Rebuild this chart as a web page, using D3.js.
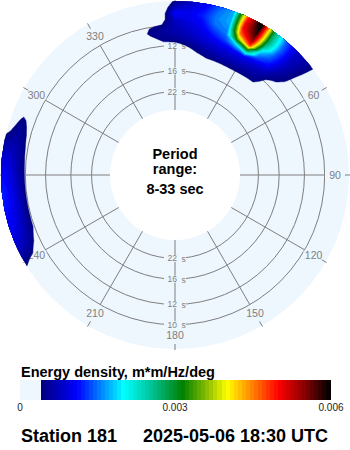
<!DOCTYPE html>
<html>
<head>
<meta charset="utf-8">
<script src="https://cdn.jsdelivr.net/npm/d3@7"></script>
<style>
  html, body { margin: 0; padding: 0; background: #ffffff; }
  svg { display: block; }
</style>
</head>
<body>
<svg id="chart" width="350" height="450"></svg>
<script>
// ---- Directional wave spectrum, energy density in m*m/Hz/deg ----
// Frequency bands (Hz) for the north-east sector and its direction bins (deg, clockwise from N)
const northFreqs = [0.070, 0.075, 0.080, 0.085, 0.090, 0.095, 0.100, 0.105, 0.110, 0.115, 0.120];
const northDirs = [-20, -15, -10, -5, 0, 5, 10, 15, 20, 25, 30, 35, 40, 45, 50, 55, 60];
const north070 = [0.00005, 0.00005, 0.00005, 0.00005, 0.00010, 0.00015, 0.00020, 0.00025, 0.00025, 0.00025, 0.00025, 0.00025, 0.00025, 0.00020, 0.00010, 0.00005, 0.00005];
const north075 = [0.00005, 0.00005, 0.00005, 0.00010, 0.00015, 0.00025, 0.00030, 0.00035, 0.00036, 0.00038, 0.00038, 0.00036, 0.00035, 0.00025, 0.00010, 0.00005, 0.00005];
const north080 = [0.00005, 0.00005, 0.00008, 0.00015, 0.00025, 0.00030, 0.00042, 0.00055, 0.00060, 0.00060, 0.00060, 0.00055, 0.00050, 0.00022, 0.00015, 0.00005, 0.00005];
const north085 = [0.00005, 0.00008, 0.00015, 0.00034, 0.00036, 0.00044, 0.00060, 0.00070, 0.00080, 0.00080, 0.00080, 0.00070, 0.00060, 0.00032, 0.00020, 0.00008, 0.00005];
const north090 = [0.00008, 0.00015, 0.00032, 0.00050, 0.00055, 0.00065, 0.00080, 0.00090, 0.00100, 0.00105, 0.00110, 0.00095, 0.00080, 0.00050, 0.00030, 0.00010, 0.00005];
const north095 = [0.00010, 0.00020, 0.00046, 0.00055, 0.00065, 0.00075, 0.00090, 0.00110, 0.00130, 0.00180, 0.00280, 0.00140, 0.00110, 0.00060, 0.00038, 0.00012, 0.00005];
const north100 = [0.00010, 0.00022, 0.00038, 0.00043, 0.00070, 0.00085, 0.00100, 0.00130, 0.00150, 0.00350, 0.00480, 0.00180, 0.00130, 0.00070, 0.00042, 0.00015, 0.00005];
const north105 = [0.00005, 0.00010, 0.00020, 0.00025, 0.00080, 0.00095, 0.00110, 0.00150, 0.00160, 0.00460, 0.00550, 0.00250, 0.00140, 0.00080, 0.00045, 0.00020, 0.00005];
const north110 = [0.00003, 0.00005, 0.00010, 0.00010, 0.00110, 0.00100, 0.00120, 0.00155, 0.00170, 0.00500, 0.00580, 0.00280, 0.00150, 0.00080, 0.00050, 0.00020, 0.00005];
const north115 = [0.00003, 0.00003, 0.00005, 0.00008, 0.00070, 0.00090, 0.00110, 0.00150, 0.00170, 0.00500, 0.00600, 0.00280, 0.00150, 0.00080, 0.00055, 0.00020, 0.00005];
const north120 = [0.00003, 0.00003, 0.00005, 0.00010, 0.00045, 0.00070, 0.00100, 0.00140, 0.00170, 0.00480, 0.00620, 0.00280, 0.00140, 0.00080, 0.00060, 0.00020, 0.00005];

// Western sector
const westFreqs = [0.095, 0.100, 0.105, 0.110, 0.115, 0.120];
const westDirs = [230, 235, 240, 245, 250, 255, 260, 265, 270, 275, 280, 285, 290, 295, 300];
const west095 = [0.00010, 0.00010, 0.00015, 0.00020, 0.00025, 0.00030, 0.00030, 0.00030, 0.00030, 0.00025, 0.00020, 0.00015, 0.00010, 0.00005, 0.00005];
const west100 = [0.00010, 0.00015, 0.00020, 0.00030, 0.00036, 0.00037, 0.00037, 0.00037, 0.00037, 0.00036, 0.00034, 0.00030, 0.00025, 0.00010, 0.00005];
const west105 = [0.00010, 0.00015, 0.00025, 0.00040, 0.00055, 0.00060, 0.00065, 0.00065, 0.00060, 0.00055, 0.00050, 0.00045, 0.00036, 0.00015, 0.00005];
const west110 = [0.00010, 0.00020, 0.00032, 0.00060, 0.00075, 0.00085, 0.00090, 0.00090, 0.00085, 0.00075, 0.00065, 0.00055, 0.00045, 0.00020, 0.00005];
const west115 = [0.00010, 0.00025, 0.00040, 0.00070, 0.00090, 0.00100, 0.00110, 0.00110, 0.00100, 0.00090, 0.00070, 0.00045, 0.00030, 0.00015, 0.00005];
const west120 = [0.00010, 0.00030, 0.00045, 0.00080, 0.00100, 0.00110, 0.00120, 0.00120, 0.00110, 0.00090, 0.00060, 0.00032, 0.00020, 0.00010, 0.00005];

// Period rings (s) and compass directions (deg)
const ringPeriods = [10, 12, 16, 22];
const compassDirs = [0, 30, 60, 90, 120, 150, 180, 210, 240, 270, 300, 330];

// Colour map for energy density
const colorStops = [0.0004, 0.0011, 0.0020, 0.0025, 0.00315, 0.0037, 0.0040, 0.00445, 0.0050, 0.0055, 0.0060];
const colorHexes = ['#00007f', '#0000ff', '#00ffff', '#00c8a0', '#008000', '#a0c800', '#ffff00', '#ff8c00', '#ff0000', '#8b0000', '#000000'];
const colorTicks = [0, 0.003, 0.006];
const colorMax = 0.006;
const colorMin = 0.0004;
const colorLevels = 72;

const periodLines = ['Period', 'range:', '8-33 sec'];
const legendTitle = 'Energy density, m*m/Hz/deg';
const stationLabel = 'Station 181';
const timeLabel = '2025-05-06 18:30 UTC';

// ---- layout ----
const cx = 175, cy = 175;
const innerR = 65, outerR = 174;
const bgBlue = '#eef6fe';
const gridGray = '#7f7f7f';
const fontFamily = '"Liberation Sans", Arial, Helvetica, sans-serif';

const svg = d3.select('#chart');

// radius is linear in frequency, from the 33 s period at the inner edge
const radius = d3.scaleLinear().domain([1 / 33, 0.12]).range([innerR, outerR]);
const polar = (dirDeg, r) => {
  const a = dirDeg * Math.PI / 180;
  return [cx + r * Math.sin(a), cy - r * Math.cos(a)];
};

const colorScale = d3.scaleLinear().domain(colorStops).range(colorHexes)
  .interpolate(d3.interpolateRgb).clamp(true);
const step = (colorMax - colorMin) / colorLevels;
const thresholds = d3.range(colorLevels).map(i => colorMin + i * step);
const bandColor = t => colorScale(Math.min(colorMax, t + step / 2));

// ---- disc ----
svg.append('circle').attr('cx', cx).attr('cy', cy).attr('r', outerR).attr('fill', bgBlue);
svg.append('circle').attr('cx', cx).attr('cy', cy).attr('r', innerR).attr('fill', '#ffffff');

const grid = svg.append('g').attr('fill', 'none').attr('stroke', gridGray).attr('stroke-width', 1);
ringPeriods.forEach(p => {
  grid.append('circle').attr('cx', cx).attr('cy', cy).attr('r', radius(1 / p));
});
const spokeOuter = radius(1 / d3.min(ringPeriods));
compassDirs.forEach(d => {
  const [x1, y1] = polar(d, innerR);
  const [x2, y2] = polar(d, spokeOuter);
  grid.append('line').attr('x1', x1).attr('y1', y1).attr('x2', x2).attr('y2', y2);
  const [x3, y3] = polar(d, 169);
  const [x4, y4] = polar(d, 175);
  grid.append('line').attr('x1', x3).attr('y1', y3).attr('x2', x4).attr('y2', y4);
});

// compass labels
const compass = svg.append('g').attr('font-family', fontFamily).attr('font-size', 10.5)
  .attr('fill', gridGray).attr('text-anchor', 'middle');
compassDirs.forEach(d => {
  const [x, y] = polar(d, 160);
  compass.append('rect').attr('x', x - 10).attr('y', y - 4.5).attr('width', 20).attr('height', 9).attr('fill', bgBlue);
  compass.append('text').attr('x', x).attr('y', y).attr('dy', '0.36em').text(d);
});

// period ring labels on the north and south spokes
const ringLab = svg.append('g').attr('font-family', fontFamily).attr('font-size', 8.5).attr('fill', gridGray);
ringPeriods.forEach(p => {
  [0, 180].forEach(d => {
    const [x, y] = polar(d, radius(1 / p));
    ringLab.append('rect').attr('x', x - 11).attr('y', y - 3.5).attr('width', 22).attr('height', 7).attr('fill', bgBlue);
    ringLab.append('text').attr('x', x + 2).attr('y', y).attr('dy', '0.35em').attr('text-anchor', 'end').text(p);
    ringLab.append('text').attr('x', x + 6.5).attr('y', y).attr('dy', '0.42em').text('s');
  });
});

// ---- energy contours ----
svg.append('clipPath').attr('id', 'disc-clip')
  .append('circle').attr('cx', cx).attr('cy', cy).attr('r', outerR);
const energy = svg.append('g').attr('clip-path', 'url(#disc-clip)');

function drawSector(dirs, freqs, rows) {
  const nx = dirs.length, ny = freqs.length;
  const values = rows.flat();
  const dDir = dirs[1] - dirs[0], dF = freqs[1] - freqs[0];
  const toXY = ([gx, gy]) => polar(dirs[0] + (gx - 0.5) * dDir, radius(freqs[0] + (gy - 0.5) * dF));
  const ringPath = ring => {
    const pts = [];
    for (let i = 0; i < ring.length - 1; i++) {
      const [x0, y0] = ring[i], [x1, y1] = ring[i + 1];
      const n = Math.max(1, Math.ceil(Math.hypot(x1 - x0, y1 - y0) * 6));
      for (let k = 0; k < n; k++) pts.push(toXY([x0 + (x1 - x0) * k / n, y0 + (y1 - y0) * k / n]));
    }
    return 'M' + pts.map(p => p[0].toFixed(2) + ',' + p[1].toFixed(2)).join('L') + 'Z';
  };
  const contours = d3.contours().size([nx, ny]).thresholds(thresholds)(values);
  energy.append('g').selectAll('path')
    .data(contours.filter(c => c.coordinates.length))
    .join('path')
    .attr('fill', c => bandColor(c.value))
    .attr('stroke', c => bandColor(c.value))
    .attr('stroke-width', 0.4)
    .attr('fill-rule', 'evenodd')
    .attr('d', c => c.coordinates.map(poly => poly.map(ringPath).join('')).join(''));
}

drawSector(northDirs, northFreqs, [north070, north075, north080, north085, north090, north095,
  north100, north105, north110, north115, north120]);
drawSector(westDirs, westFreqs, [west095, west100, west105, west110, west115, west120]);

// ---- centre text ----
const centre = svg.append('g').attr('font-family', fontFamily).attr('font-weight', 'bold')
  .attr('font-size', 14.5).attr('fill', '#000').attr('text-anchor', 'middle');
centre.append('text').attr('x', cx).attr('y', 159.3).text(periodLines[0]);
centre.append('text').attr('x', cx).attr('y', 174.3).text(periodLines[1]);
centre.append('text').attr('x', cx).attr('y', 194).text(periodLines[2]);

// ---- colour bar ----
const barX = d3.scaleLinear().domain([0, colorMax]).range([20, 330]);
const barY = 380, barH = 19.5;
svg.append('text').attr('x', 21).attr('y', 376.5).attr('font-family', fontFamily)
  .attr('font-weight', 'bold').attr('font-size', 14.5).attr('fill', '#000').text(legendTitle);
const bar = svg.append('g').attr('shape-rendering', 'crispEdges');
bar.append('rect').attr('x', barX(0)).attr('y', barY).attr('width', barX(colorMin) - barX(0))
  .attr('height', barH).attr('fill', bgBlue);
bar.selectAll('rect.band').data(thresholds).join('rect').attr('class', 'band')
  .attr('x', t => barX(t)).attr('y', barY)
  .attr('width', t => barX(Math.min(colorMax, t + step)) - barX(t) + 0.5)
  .attr('height', barH).attr('fill', t => bandColor(t));
const ticks = svg.append('g').attr('font-family', fontFamily).attr('font-size', 10)
  .attr('fill', '#222').attr('text-anchor', 'middle');
colorTicks.forEach(t => {
  ticks.append('text').attr('x', barX(t) + (t === colorMax ? 1 : 0)).attr('y', 411).text(t === 0 ? '0' : t.toFixed(3));
});

// ---- footer ----
svg.append('text').attr('x', 21).attr('y', 441.5).attr('font-family', fontFamily)
  .attr('font-weight', 'bold').attr('font-size', 18).attr('fill', '#000').text(stationLabel);
svg.append('text').attr('x', 328).attr('y', 441.5).attr('text-anchor', 'end').attr('font-family', fontFamily)
  .attr('font-weight', 'bold').attr('font-size', 18).attr('fill', '#000').text(timeLabel);
</script>
</body>
</html>
